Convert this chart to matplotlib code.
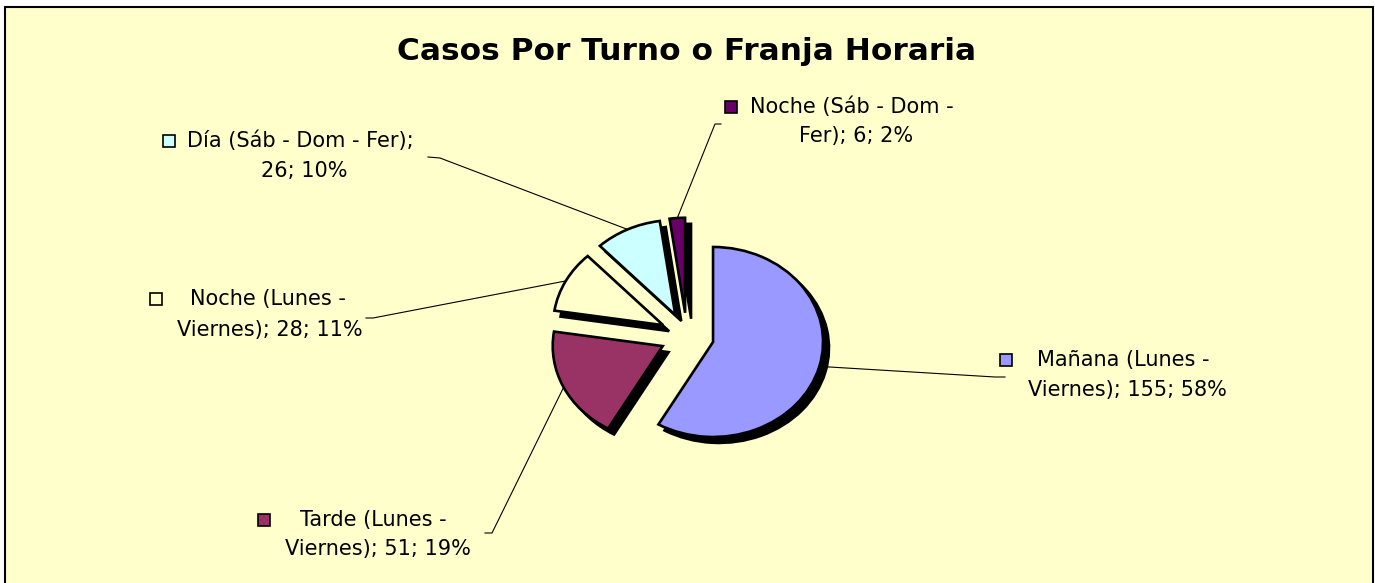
import numpy as np
import matplotlib
matplotlib.use('Agg')
import matplotlib.pyplot as plt
from matplotlib.patches import Rectangle

##### data
names = ['Mañana (Lunes - Viernes)', 'Tarde (Lunes - Viernes)', 'Noche (Lunes - Viernes)',
         'Día (Sáb - Dom - Fer)', 'Noche (Sáb - Dom - Fer)']
values = [155, 51, 28, 26, 6]
colors = ['#9999FF', '#993366', '#FFFFCC', '#CCFFFF', '#660066']
title = 'Casos Por Turno o Franja Horaria'

# how many words go on the first label line
first_words = [3, 3, 3, 6, 5]

W, H = 1375, 583
bg_color = '#FFFFCC'

fig = plt.figure(figsize=(W / 100, H / 100), dpi=100)
fig.patch.set_facecolor('white')

# label layer, in pixel coords (y down)
lab = fig.add_axes([0, 0, 1, 1], zorder=0)
lab.set_xlim(0, W)
lab.set_ylim(H, 0)
lab.axis('off')
lab.add_patch(Rectangle((5, 7), 1368, 590, facecolor=bg_color, edgecolor='black', lw=1.5))

# pie layer, stretched a little wider than tall like the original
ax = fig.add_axes([0, 0, 1, 1], zorder=1)
ax.patch.set_alpha(0)
cx, cy, rx, ry = 687, 336, 110, 95
explode = [0.245] * len(values)
# black drop shadow first, then the coloured slices
ax.pie(values, colors=['black'] * 5, startangle=90, counterclock=False,
       explode=explode, center=(6 / rx, -6 / ry),
       wedgeprops=dict(edgecolor='black', linewidth=1.8))
wedges, _ = ax.pie(values, colors=colors, startangle=90, counterclock=False,
                   explode=explode, wedgeprops=dict(edgecolor='black', linewidth=1.9))
ax.set_aspect('auto')
ax.set_xlim(-cx / rx, (W - cx) / rx)
ax.set_ylim(-(H - cy) / ry, cy / ry)
ax.axis('off')

lab.text(687, 60, title, ha='center', va='baseline', fontsize=22.5,
         fontweight='bold', family='DejaVu Sans')

# label placement (pixels)
marker_x = [1000, 258, 150, 163, 725]
line1_x = [1037, 300, 190, 187, 750]
line1_y = [360, 520, 299, 141, 107]
line2_x = [1127, 378, 270, 304, 856]
line2_y = [390, 549, 330, 171, 136]
leader_end = [[(995, 377), (1005, 377)], [(492, 533), (485, 533)], [(373, 318), (366, 318)],
              [(440, 158), (428, 157)], [(715, 124), (721, 124)]]

total = sum(values)
fig.canvas.draw()
to_px = lab.transData.inverted()
for i, w in enumerate(wedges):
    pct = int(round(values[i] / total * 100))
    words = f'{names[i]}; {values[i]}; {pct}%'.split(' ')
    l1 = ' '.join(words[:first_words[i]])
    l2 = ' '.join(words[first_words[i]:])
    lab.add_patch(Rectangle((marker_x[i], line1_y[i] - 6), 12, 12, facecolor=colors[i],
                            edgecolor='black', lw=1.2))
    lab.text(line1_x[i], line1_y[i], l1, ha='left', va='center', fontsize=15,
             family='DejaVu Sans')
    lab.text(line2_x[i], line2_y[i], l2, ha='center', va='center', fontsize=15,
             family='DejaVu Sans')
    # leader line from the arc midpoint out to the label
    mid = np.deg2rad((w.theta1 + w.theta2) / 2)
    p = (w.center[0] + w.r * np.cos(mid), w.center[1] + w.r * np.sin(mid))
    px, py = to_px.transform(ax.transData.transform(p))
    xs = [px] + [q[0] for q in leader_end[i]]
    ys = [py] + [q[1] for q in leader_end[i]]
    lab.plot(xs, ys, color='black', lw=0.8)

fig.savefig('out.png', dpi=100, facecolor=fig.get_facecolor())
